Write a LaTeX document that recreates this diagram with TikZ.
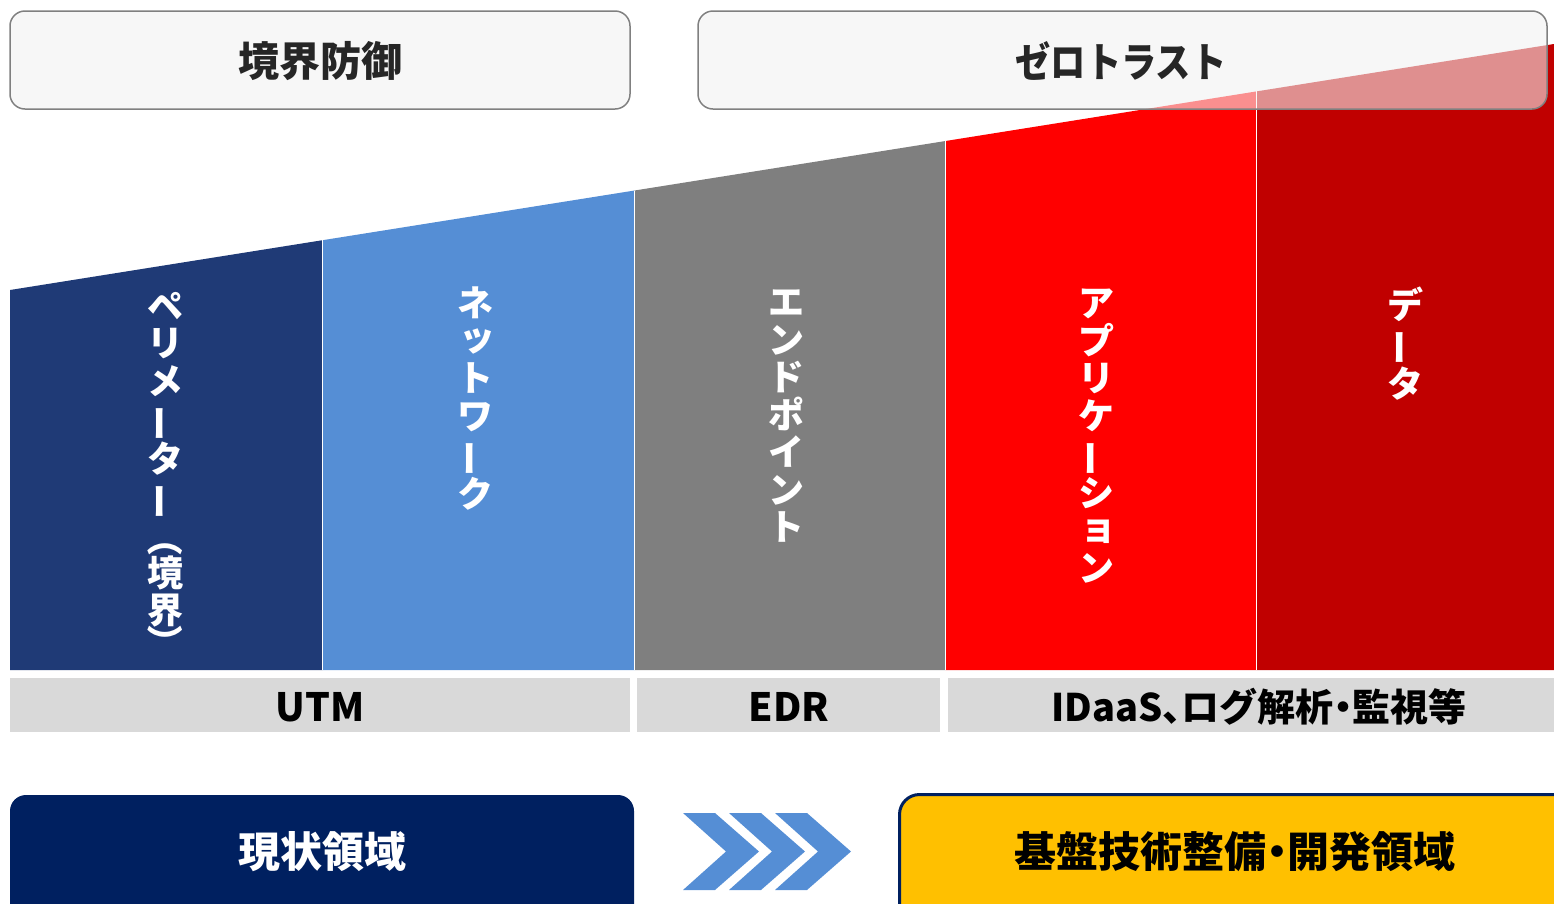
\documentclass[tikz,border=0pt]{standalone}
\usepackage{fontspec}
\setmainfont{Noto Sans CJK JP}
\newfontfamily\jp{Noto Sans CJK JP}
\definecolor{topfill}{HTML}{F7F7F7}
\definecolor{topdraw}{HTML}{808080}
\definecolor{toptext}{HTML}{262626}
\definecolor{cnavy}{HTML}{1F3A76}
\definecolor{cblue}{HTML}{558ED5}
\definecolor{cgray}{HTML}{7F7F7F}
\definecolor{cred}{HTML}{FF0000}
\definecolor{cdred}{HTML}{C00000}
\definecolor{cbar}{HTML}{D9D9D9}
\definecolor{dnavy}{HTML}{002060}
\definecolor{gold}{HTML}{FFC000}
\newcommand{\vbar}{\rotatebox[origin=c]{90}{ー}}
\newcommand{\smk}[1]{\makebox[1em]{\hspace{0.16em}\raisebox{0.1em}{#1}}}
\newcommand{\vpo}{\rotatebox[origin=c]{-90}{（}}
\newcommand{\vpc}{\rotatebox[origin=c]{-90}{）}}
\newcommand{\nar}[1]{\makebox[0.5em]{#1}}
\newcommand{\narl}[1]{\makebox[0.5em][l]{#1}}
\tikzset{
  headbox/.style={draw=topdraw, line width=1.5pt, rounded corners=15pt},
  headtext/.style={inner sep=0pt, text=toptext, font=\jp\bfseries\fontsize{41}{48}\selectfont},
  vtext/.style={inner sep=0pt, anchor=north, align=center, text=white, font=\jp\bfseries\fontsize{36}{37.5}\selectfont},
  bartext/.style={inner sep=0pt, text=black, font=\jp\bfseries\fontsize{39}{46}\selectfont},
  sep/.style={draw=white, line width=1.6pt},
  chev/.style={fill=cblue},
}
\begin{document}
\begin{tikzpicture}[x=1pt,y=-1pt]
\useasboundingbox (0,0) rectangle (1554,903);
\clip (0,0) rectangle (1554,903);
% opaque base of the right header box
\fill[topfill, rounded corners=15pt] (698,11) rectangle (1547,109);
% columns
\fill[cnavy] (10,670) -- (10,290) -- (322.5,240.2) -- (322.5,670) -- cycle;
\fill[cblue] (322.5,670) -- (322.5,240.2) -- (634.5,190.5) -- (634.5,670) -- cycle;
\fill[cgray] (634.5,670) -- (634.5,190.5) -- (945.5,141.0) -- (945.5,670) -- cycle;
\fill[cred] (945.5,670) -- (945.5,141.0) -- (1256.5,91.4) -- (1256.5,670) -- cycle;
\fill[cdred] (1256.5,670) -- (1256.5,91.4) -- (1554,44) -- (1554,670) -- cycle;
\draw[sep] (322.5,240.2) -- (322.5,670);
\draw[sep] (634.5,190.5) -- (634.5,670);
\draw[sep] (945.5,141.0) -- (945.5,670);
\draw[sep] (1256.5,91.4) -- (1256.5,670);
% header boxes
\draw[headbox, fill=topfill] (10,11) rectangle (630,109);
\draw[headbox, fill=topfill, fill opacity=0.58] (698,11) rectangle (1547,109);
\node[headtext] (h1) at (320,61) {境界防御};
\node[headtext] (h2) at (1121,61) {\scalebox{0.86}[1]{ゼロトラスト}};
% vertical labels
\node[vtext] (v1) at (165,292) {ペ\\リ\\メ\\\vbar\\タ\\\vbar\\\vpo\\[-3.5pt]境\\界\\[-5.5pt]\vpc};
\node[vtext] (v2) at (475,287) {ネ\\\smk{ッ}\\ト\\ワ\\\vbar\\ク};
\node[vtext] (v3) at (786,290) {エ\\ン\\ド\\ポ\\イ\\ン\\ト};
\node[vtext] (v4) at (1096,289) {ア\\プ\\リ\\ケ\\\vbar\\シ\\\smk{ョ}\\ン};
\node[vtext] (v5) at (1405,287) {デ\\\vbar\\タ};
% bars
\fill[cbar] (10,678) rectangle (630,732);
\fill[cbar] (637,678) rectangle (940,732);
\fill[cbar] (948,678) rectangle (1554,732);
\node[bartext] (b1) at (320,707) {UTM};
\node[bartext] (b2) at (789,707) {EDR};
\node[bartext, font=\jp\bfseries\fontsize{38}{46}\selectfont] (b3) at (1259,707) {IDaaS\narl{、}ログ解析\nar{・}監視等};
% bottom boxes
\fill[dnavy, rounded corners=16pt] (10,795) rectangle (634,960);
\draw[draw=dnavy, line width=3pt, fill=gold, rounded corners=20pt] (899.5,794.5) rectangle (1620,960);
\node[inner sep=0pt, text=white, font=\jp\bfseries\fontsize{42}{48}\selectfont] (c1) at (322,852) {現状領域};
\node[inner sep=0pt, text=black, font=\jp\bfseries\fontsize{42}{50}\selectfont] (c2) at (1235,852) {基盤技術整備\nar{・}開発領域};
% chevrons
\foreach \x in {683,729,775}{
  \fill[chev] (\x,813) -- (\x+32,813) -- (\x+76,851.5) -- (\x+32,890) -- (\x,890) -- (\x+43,851.5) -- cycle;
}
\end{tikzpicture}
\end{document}
